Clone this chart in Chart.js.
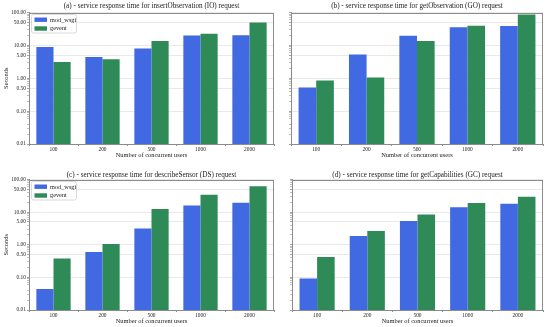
<!DOCTYPE html>
<html>
<head>
<meta charset="utf-8">
<script src="https://cdn.jsdelivr.net/npm/chart.js@4.4.0/dist/chart.umd.min.js"></script>
<style>
    html, body { margin: 0; padding: 0; background: #fff; }
    #wrap { position: relative; width: 550px; height: 327px; overflow: hidden; }
    canvas { position: absolute; }
</style>
</head>
<body>
<div id="wrap">
    <canvas id="chartA"></canvas>
    <canvas id="chartB"></canvas>
    <canvas id="chartC"></canvas>
    <canvas id="chartD"></canvas>
</div>
<script>
// Chart data
const categories = ['100', '200', '500', '1000', '2000'];
const seriesNames = ['mod_wsgi', 'gevent'];
const titles = [
    '(a) - service response time for insertObservation (IO) request',
    '(b) - service response time for getObservation (GO) request',
    '(c) - service response time for describeSensor (DS) request',
    '(d) - service response time for getCapabilities (GC) request'
];
const yTicks = [0.01, 0.1, 0.5, 1, 5, 10, 50, 100];
const yMinorTicks = [0.02, 0.03, 0.04, 0.06, 0.07, 0.08, 0.09, 0.2, 0.3, 0.4, 0.6, 0.7, 0.8, 0.9,
    2, 3, 4, 6, 7, 8, 9, 20, 30, 40, 60, 70, 80, 90];

const modA = [9.0, 4.4, 8.0, 20.0, 20.4];
const gevA = [3.1, 3.8, 13.7, 22.4, 49.6];
const modB = [0.52, 5.3, 19.5, 35.7, 39.0];
const gevB = [0.85, 1.05, 13.7, 39.3, 87.0];
const modC = [0.044, 0.60, 3.16, 16.0, 19.3];
const gevC = [0.38, 1.05, 12.4, 34.0, 62.5];
const modD = [0.093, 1.84, 5.3, 14.2, 18.0];
const gevD = [0.42, 2.62, 8.5, 18.9, 29.4];

const colors = ['#4169e1', '#2e8b57'];
const FONT = "'Liberation Serif', 'DejaVu Serif', serif";

// Frame, title and legend drawn around the plot area
const framePlugin = {
    id: 'frame',
    afterDatasetsDraw(chart, args, opts) {
        const { ctx, chartArea: a } = chart;
        ctx.save();
        ctx.strokeStyle = '#8c8c8c';
        ctx.lineWidth = 1;
        ctx.strokeRect(Math.round(a.left) + 0.5, Math.round(a.top) + 0.5,
            Math.round(a.right - a.left) - 1, Math.round(a.bottom - a.top) - 1);

        // title centred over the axes
        ctx.fillStyle = '#222';
        ctx.font = '7.2px ' + FONT;
        ctx.textAlign = 'center';
        ctx.textBaseline = 'middle';
        ctx.fillText(opts.title, (a.left + a.right) / 2, opts.titleY);

        if (opts.legend) {
            const x = a.left + 2.5, y = a.top + 2;
            ctx.fillStyle = 'rgba(255,255,255,0.85)';
            ctx.strokeStyle = '#d0d0d0';
            ctx.lineWidth = 0.8;
            ctx.beginPath();
            ctx.roundRect(x, y, 45, 18.5, 2);
            ctx.fill();
            ctx.stroke();
            ctx.font = '6.3px ' + FONT;
            ctx.textAlign = 'left';
            chart.data.datasets.forEach((ds, i) => {
                const cy = y + 5.2 + i * 8.8;
                ctx.fillStyle = ds.backgroundColor;
                ctx.fillRect(x + 3, cy - 2.2, 12.5, 4.4);
                ctx.fillStyle = '#222';
                ctx.fillText(ds.label, x + 18.5, cy + 0.3);
            });
        }
        ctx.restore();
    }
};

const panels = [
    { id: 'chartA', title: titles[0], mod: modA, gev: gevA, left: 0, top: 0, w: 278, h: 165,
      yWidth: 29, xHeight: 15, padRight: 4, padBottom: 6, padTop: 12.5, titleY: 6.2, showY: true, legend: true },
    { id: 'chartB', title: titles[1], mod: modB, gev: gevB, left: 278, top: 0, w: 272, h: 165,
      yWidth: 13, xHeight: 15, padRight: 7, padBottom: 6, padTop: 12.5, titleY: 6.2, showY: false, legend: false },
    { id: 'chartC', title: titles[2], mod: modC, gev: gevC, left: 0, top: 165, w: 278, h: 162,
      yWidth: 29, xHeight: 15.6, padRight: 4, padBottom: 1.4, padTop: 14.5, titleY: 10, showY: true, legend: true },
    { id: 'chartD', title: titles[3], mod: modD, gev: gevD, left: 278, top: 165, w: 272, h: 162,
      yWidth: 14, xHeight: 15.6, padRight: 7, padBottom: 1.4, padTop: 14.5, titleY: 10, showY: false, legend: false }
];

function buildChart(p) {
    const canvas = document.getElementById(p.id);
    canvas.width = p.w;
    canvas.height = p.h;
    canvas.style.left = p.left + 'px';
    canvas.style.top = p.top + 'px';
    canvas.style.width = p.w + 'px';
    canvas.style.height = p.h + 'px';

    return new Chart(canvas, {
        type: 'bar',
        data: {
            labels: categories,
            datasets: [
                { label: seriesNames[0], data: p.mod, backgroundColor: colors[0] },
                { label: seriesNames[1], data: p.gev, backgroundColor: colors[1] }
            ]
        },
        options: {
            responsive: false,
            animation: false,
            devicePixelRatio: 1,
            categoryPercentage: 0.7,
            barPercentage: 1.0,
            layout: { padding: { left: 0, right: p.padRight, top: p.padTop, bottom: p.padBottom } },
            plugins: {
                legend: { display: false },
                tooltip: { enabled: false },
                title: { display: false },
                frame: { legend: p.legend, title: p.title, titleY: p.titleY }
            },
            scales: {
                x: {
                    grid: { display: true, drawOnChartArea: false, drawTicks: true, tickLength: 2, color: '#8c8c8c' },
                    border: { display: true, color: '#8c8c8c' },
                    ticks: { color: '#222', font: { family: FONT, size: 5.4 }, padding: 0, maxRotation: 0 },
                    title: {
                        display: true, text: 'Number of concurrent users', color: '#222',
                        font: { family: FONT, size: 6.4 }, padding: { top: 0, bottom: 0 }
                    },
                    afterFit(scale) { scale.height = p.xHeight; }
                },
                y: {
                    type: 'logarithmic',
                    min: 0.01,
                    max: 100,
                    afterBuildTicks(scale) {
                        scale.ticks = yTicks.concat(yMinorTicks).sort((a, b) => a - b)
                            .map(v => ({ value: v }));
                    },
                    grid: {
                        color: c => yTicks.includes(c.tick.value) ? '#e3e3e3' : 'rgba(0,0,0,0)',
                        tickColor: c => yTicks.includes(c.tick.value) ? '#8c8c8c' : '#b0b0b0',
                        lineWidth: 0.8,
                        tickLength: 2
                    },
                    border: { display: true, color: '#8c8c8c' },
                    ticks: {
                        display: p.showY,
                        autoSkip: false,
                        color: '#222',
                        font: { family: FONT, size: 5.4 },
                        padding: 1,
                        callback: v => yTicks.includes(v) ? v.toFixed(2) : ''
                    },
                    title: {
                        display: p.showY, text: 'Seconds', color: '#222',
                        font: { family: FONT, size: 6.4 }, padding: { top: 2, bottom: 0 }
                    },
                    afterFit(scale) { scale.width = p.yWidth; }
                }
            }
        },
        plugins: [framePlugin]
    });
}

panels.forEach(buildChart);
</script>
</body>
</html>
